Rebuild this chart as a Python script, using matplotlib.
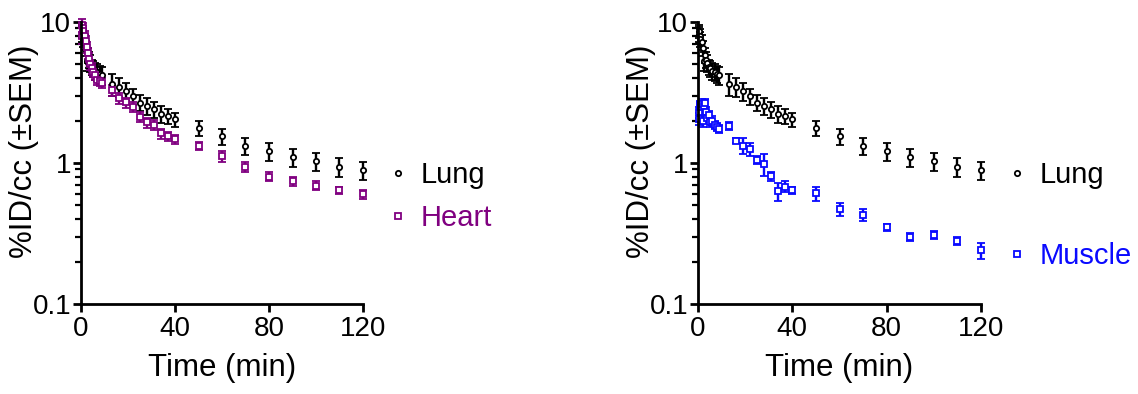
import matplotlib
matplotlib.use("Agg")
import matplotlib.pyplot as plt
from matplotlib.lines import Line2D
from matplotlib.ticker import LogLocator, NullFormatter, FixedLocator, FixedFormatter

plt.rcParams['font.family'] = ['Liberation Sans', 'DejaVu Sans']

# ---- data ----
time = [0.25, 0.5, 0.75, 1, 1.5, 2, 2.5, 3, 3.5, 4, 4.5, 5, 6, 7, 8, 9,
        13, 16, 19, 22, 25, 28, 31, 34, 37, 40,
        50, 60, 70, 80, 90, 100, 110, 120]

lung = [8.2, 8.6, 8.0, 7.6, 7.2, 6.5, 5.3, 5.8, 5.4, 5.1, 4.8, 4.7, 4.5, 4.4, 4.3, 4.2,
        3.63, 3.48, 3.22, 2.97, 2.68, 2.55, 2.41, 2.23, 2.15, 2.04,
        1.78, 1.55, 1.32, 1.21, 1.10, 1.03, 0.94, 0.89]
lung_sem = [1.0, 0.9, 0.9, 0.9, 0.9, 0.8, 0.8, 0.7, 0.7, 0.7, 0.6, 0.6, 0.6, 0.6, 0.6, 0.6,
            0.65, 0.55, 0.45, 0.4, 0.35, 0.35, 0.32, 0.3, 0.25, 0.24,
            0.22, 0.2, 0.18, 0.18, 0.16, 0.15, 0.14, 0.13]

heart = [8.0, 9.5, 9.0, 8.6, 8.0, 7.3, 6.6, 6.0, 5.5, 5.0, 4.7, 4.4, 4.2, 3.9, 3.8, 3.7,
         3.3, 2.88, 2.69, 2.51, 2.13, 1.94, 1.86, 1.62, 1.55, 1.47,
         1.33, 1.12, 0.94, 0.80, 0.74, 0.69, 0.64, 0.60]
heart_sem = [1.0, 1.0, 0.9, 0.8, 0.7, 0.6, 0.6, 0.5, 0.5, 0.4, 0.4, 0.35, 0.35, 0.3, 0.3, 0.3,
             0.3, 0.25, 0.22, 0.2, 0.18, 0.16, 0.15, 0.13, 0.12, 0.11,
             0.09, 0.1, 0.07, 0.06, 0.05, 0.05, 0.04, 0.04]

muscle = [2.05, 2.3, 2.55, 2.5, 2.6, 2.0, 2.55, 2.65, 2.3, 2.1, 2.2, 1.95, 2.0, 1.85, 1.8, 1.75,
          1.84, 1.44, 1.33, 1.25, 1.05, 0.98, 0.81, 0.63, 0.68, 0.64,
          0.61, 0.47, 0.43, 0.35, 0.30, 0.31, 0.28, 0.24]
muscle_sem = [0.2, 0.2, 0.2, 0.2, 0.25, 0.2, 0.2, 0.2, 0.2, 0.15, 0.15, 0.15, 0.15, 0.12, 0.12, 0.12,
              0.12, 0.06, 0.18, 0.13, 0.07, 0.17, 0.06, 0.09, 0.06, 0.04,
              0.07, 0.05, 0.04, 0.02, 0.02, 0.02, 0.02, 0.03]

x_ticks = [0, 40, 80, 120]
x_tick_labels = ["0", "40", "80", "120"]
y_ticks = [0.1, 1, 10]
y_tick_labels = ["0.1", "1", "10"]

LUNG_C = "#000000"
HEART_C = "#800080"
MUSCLE_C = "#0a0aff"

W, H = 1138, 394
fig = plt.figure(figsize=(W / 100, H / 100), dpi=100)
ax1 = fig.add_axes([81 / W, 90 / H, 282 / W, 282 / H])
ax2 = fig.add_axes([698 / W, 90 / H, 283 / W, 282 / H])


def draw(ax, y, sem, color, marker):
    eb = ax.errorbar(time, y, yerr=sem, fmt=marker, ms=3.8, mfc='white', mec=color, mew=1.3,
                     ecolor=color, elinewidth=1.7, capsize=3.0, capthick=1.7)
    eb[0].set_clip_on(False)
    for c in eb[1]:
        c.set_clip_on(False)
    for c in eb[2]:
        c.set_clip_on(False)


def style(ax):
    ax.set_yscale('log')
    ax.set_xlim(0, 120)
    ax.set_ylim(0.1, 10)
    for s in ['top', 'right']:
        ax.spines[s].set_visible(False)
    for s in ['left', 'bottom']:
        ax.spines[s].set_linewidth(2.0)
    ax.xaxis.set_major_locator(FixedLocator(x_ticks))
    ax.xaxis.set_major_formatter(FixedFormatter(x_tick_labels))
    ax.yaxis.set_major_locator(FixedLocator(y_ticks))
    ax.yaxis.set_major_formatter(FixedFormatter(y_tick_labels))
    ax.yaxis.set_minor_locator(LogLocator(base=10, subs=range(2, 10)))
    ax.yaxis.set_minor_formatter(NullFormatter())
    ax.tick_params(axis='both', which='major', direction='out', length=6, width=2,
                   labelsize=20)
    ax.tick_params(axis='x', which='major', pad=3)
    ax.tick_params(axis='y', which='major', pad=1)
    ax.tick_params(axis='y', which='minor', direction='out', length=4, width=1.6)
    ax.set_xlabel("Time (min)", fontsize=22.5)
    ax.set_ylabel("%ID/cc (±SEM)", fontsize=22.5)
    ax.xaxis.set_label_coords(0.5, -0.172)
    ax.yaxis.set_label_coords(-0.150, 0.54)


draw(ax1, lung, lung_sem, LUNG_C, 'o')
draw(ax1, heart, heart_sem, HEART_C, 's')
style(ax1)

draw(ax2, lung, lung_sem, LUNG_C, 'o')
draw(ax2, muscle, muscle_sem, MUSCLE_C, 's')
style(ax2)


def legend(ax, names, colors, markers, spacing, anchor):
    handles = [Line2D([], [], ls='none', marker=m, ms=3.8, mfc='white', mec=c, mew=1.3)
               for m, c in zip(markers, colors)]
    leg = ax.legend(handles, names, loc='center left', bbox_to_anchor=anchor,
                    bbox_transform=fig.transFigure, frameon=False, fontsize=21,
                    handlelength=0.6, handletextpad=0.49, labelspacing=spacing,
                    borderpad=0, borderaxespad=0)
    for t, c in zip(leg.get_texts(), colors):
        t.set_color(c)


legend(ax1, ["Lung", "Heart"], [LUNG_C, HEART_C], ['o', 's'], 0.51, (389 / W, 1 - 196.5 / H))
legend(ax2, ["Lung", "Muscle"], [LUNG_C, MUSCLE_C], ['o', 's'], 1.82, (1008 / W, 1 - 215.5 / H))

fig.savefig("out.png", dpi=100)
